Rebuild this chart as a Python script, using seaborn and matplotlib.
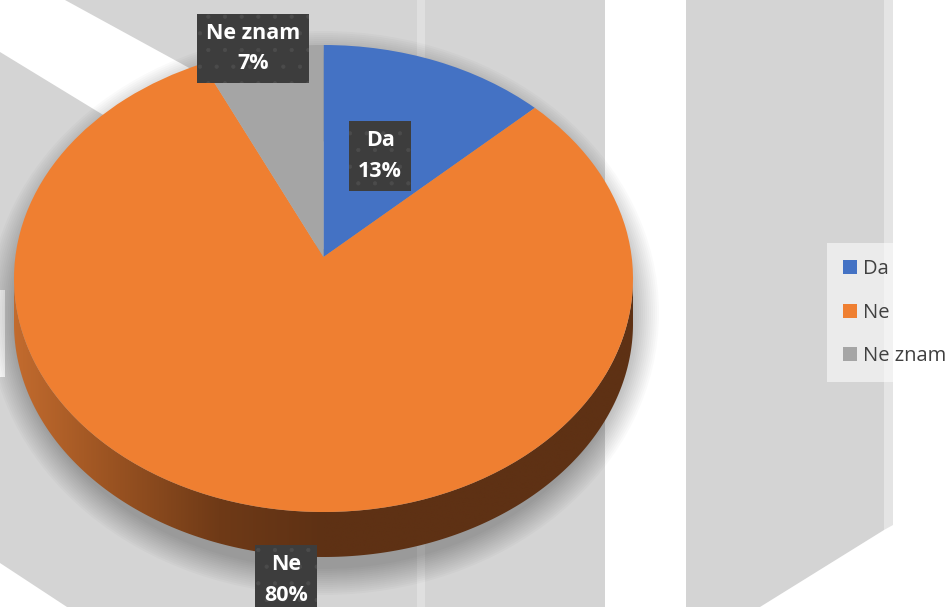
import numpy as np
import matplotlib
matplotlib.use('Agg')
import matplotlib.pyplot as plt
import seaborn as sns
from matplotlib.patches import Polygon, Ellipse, Rectangle
from matplotlib.colors import LinearSegmentedColormap
from matplotlib.transforms import Transform

# ---- data ----
categories = ['Da', 'Ne', 'Ne znam']
values = [13, 80, 7]
slice_colors = ['#4472C4', '#EF7F31', '#A5A5A5']

sns.set_theme(style='white')
plt.rcParams['font.family'] = ['Open Sans', 'DejaVu Sans']
plt.rcParams['hatch.linewidth'] = 0.6


class TiltTransform(Transform):
    """Projective map of the unit disk onto itself (perspective tilt)."""
    input_dims = output_dims = 2
    is_separable = False
    has_inverse = False

    def __init__(self, beta):
        super().__init__()
        self.beta = beta

    def transform_non_affine(self, xy):
        xy = np.asarray(xy, float)
        u, v = xy[:, 0], xy[:, 1]
        den = 1 + self.beta * v
        return np.c_[u * np.sqrt(1 - self.beta ** 2) / den, (v + self.beta) / den]


W, H = 948, 607
fig = plt.figure(figsize=(W / 100, H / 100), dpi=100)
fig.patch.set_facecolor('white')

# ---- decorative background (pixel coordinates) ----
bg = fig.add_axes([0, 0, 1, 1], zorder=0)
bg.set_xlim(0, W)
bg.set_ylim(H, 0)
bg.axis('off')
G = '#d4d4d4'
bg.add_patch(Rectangle((0, 0), 605, H, fc=G, ec='none'))
bg.add_patch(Polygon([(0, 0), (65, 0), (330, 145), (330, 253), (100, 113), (0, 52)],
                     closed=True, fc='white', ec='none'))
bg.add_patch(Polygon([(0, 563), (67, 607), (0, 607)], closed=True, fc='white', ec='none'))
bg.add_patch(Rectangle((0, 290), 5, 87, fc='white', ec='none'))
bg.add_patch(Rectangle((417, 0), 8, H, fc='#dfdfdf', ec='none'))
bg.add_patch(Polygon([(686, 0), (884, 0), (884, 530), (760, 607), (686, 607)],
                     closed=True, fc=G, ec='none'))
bg.add_patch(Polygon([(884, 0), (893, 0), (893, 525), (884, 530)],
                     closed=True, fc='#e4e4e4', ec='none'))

# ---- pie axes ----
cx, cy, rx, ry, depth = 323.5, 278.5, 309.5, 233.5, 45.0
d = depth / ry
ax = fig.add_axes([0, 0, 1, 1], zorder=1)
ax.patch.set_alpha(0)

# soft shadow
for k in range(14):
    e = k * 2.0
    ax.add_patch(Ellipse((0, -(depth / 2 + 12) / ry), 2 * (rx + e) / rx,
                         2 * (ry + depth / 2 + e) / ry,
                         fc='black', alpha=0.02, lw=0, zorder=1))

# side band (front half of the cylinder)
t = np.linspace(np.pi, 2 * np.pi, 300)
band_pts = np.concatenate([np.c_[np.cos(t), np.sin(t)],
                           np.c_[np.cos(t[::-1]), np.sin(t[::-1]) - d]])
band = Polygon(band_pts, closed=True, fc='none', ec='none', lw=0, zorder=2)
ax.add_patch(band)
band_cmap = LinearSegmentedColormap.from_list(
    'band', [(0.0, '#c26b2e'), (0.15, '#9c5422'), (0.33, '#6f3a17'),
             (0.5, '#5e3114'), (1.0, '#5e3114')])
grad = np.linspace(0, 1, 512).reshape(1, -1)
im = ax.imshow(grad, extent=(-1, 1, -1 - d, 0), aspect='auto', cmap=band_cmap,
               interpolation='bilinear', zorder=2)
im.set_clip_path(band)

# top face
wedges, _ = ax.pie(values, colors=slice_colors, startangle=90, counterclock=False,
                   radius=1, center=(0, 0), wedgeprops=dict(linewidth=0, zorder=3))
tilt = TiltTransform(0.092)
for w in wedges:
    w.set_transform(tilt + ax.transData)

ax.set_aspect('auto')
ax.set_xlim((0 - cx) / rx, (W - cx) / rx)
ax.set_ylim((cy - H) / ry, cy / ry)
ax.axis('off')

# data labels
label_pos = [(0.183, 0.525), (-0.12, -1.29), (-0.228, 0.985)]
for cat, val, (lx, ly) in zip(categories, values, label_pos):
    ax.text(lx, ly, f'{cat}\n{val}%', ha='center', va='center', color='white',
            fontsize=15.5, fontweight='bold', linespacing=1.6, zorder=6,
            bbox=dict(boxstyle='square,pad=0.42', fc='#3d3d3d', ec='#4b4b4b',
                      lw=0, hatch='.'))

# legend
leg = fig.legend(wedges, categories, loc='upper left',
                 bbox_to_anchor=(827 / W, 1 - 243 / H), frameon=True,
                 fontsize=14.5, handlelength=0.7, handleheight=0.7,
                 handletextpad=0.3, labelspacing=1.17, borderpad=0.8,
                 borderaxespad=0, facecolor='white', framealpha=0.55,
                 edgecolor='none', fancybox=False, labelcolor='#404040')

fig.savefig('out.png', dpi=100)
